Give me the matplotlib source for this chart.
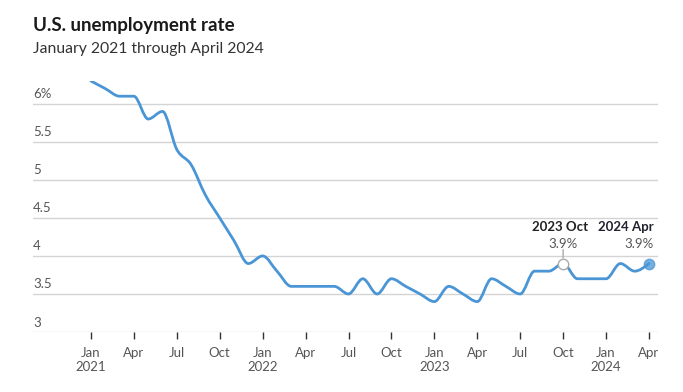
import matplotlib.pyplot as plt
import numpy as np
from matplotlib.path import Path
from matplotlib.patches import PathPatch

plt.rcParams['font.family'] = ['Lato', 'DejaVu Sans']

# monthly unemployment rate, Jan 2021 .. Apr 2024
rate_2021 = [6.3, 6.2, 6.1, 6.1, 5.8, 5.9, 5.4, 5.2, 4.8, 4.5, 4.2, 3.9]
rate_2022 = [4.0, 3.8, 3.6, 3.6, 3.6, 3.6, 3.5, 3.7, 3.5, 3.7, 3.6, 3.5]
rate_2023 = [3.4, 3.6, 3.5, 3.4, 3.7, 3.6, 3.5, 3.8, 3.8, 3.9, 3.7, 3.7]
rate_2024 = [3.7, 3.9, 3.8, 3.9]
rate = np.array(rate_2021 + rate_2022 + rate_2023 + rate_2024)
months = np.arange(len(rate))

tick_labels = ['Jan\n2021', 'Apr', 'Jul', 'Oct', 'Jan\n2022', 'Apr', 'Jul', 'Oct',
               'Jan\n2023', 'Apr', 'Jul', 'Oct', 'Jan\n2024', 'Apr']
y_ticks = [3, 3.5, 4, 4.5, 5, 5.5, 6]
y_labels = ['3', '3.5', '4', '4.5', '5', '5.5', '6%']

blue = '#4A95D6'


def monotone_path(x, y):
    # cubic bezier path, monotone in x (same idea as d3.curveMonotoneX)
    n = len(x)
    h = np.diff(x)
    s = np.diff(y) / h
    t = np.zeros(n)
    for i in range(1, n - 1):
        p = (s[i - 1] * h[i] + s[i] * h[i - 1]) / (h[i - 1] + h[i])
        t[i] = (np.sign(s[i - 1]) + np.sign(s[i])) * min(abs(s[i - 1]), abs(s[i]), 0.5 * abs(p))
    t[0] = (3 * s[0] - t[1]) / 2
    t[-1] = (3 * s[-1] - t[-2]) / 2
    verts = [(x[0], y[0])]
    codes = [Path.MOVETO]
    for i in range(n - 1):
        dx = h[i] / 3
        verts += [(x[i] + dx, y[i] + dx * t[i]), (x[i + 1] - dx, y[i + 1] - dx * t[i + 1]), (x[i + 1], y[i + 1])]
        codes += [Path.CURVE4] * 3
    return Path(verts, codes)


fig = plt.figure(figsize=(6.83, 3.92), dpi=100)
ax = fig.add_axes([33 / 683, 1 - 332 / 392, 625 / 683, 251 / 392])
ax.set_xlim(-4.05, 39.63)
ax.set_ylim(3, 6.3)

for yv, lab in zip(y_ticks, y_labels):
    ax.axhline(yv, color='#d4d4d4', lw=1, zorder=1)
    ax.annotate(lab, (0, yv), xycoords=('axes fraction', 'data'), xytext=(0, 2.5),
                textcoords='offset points', ha='left', va='bottom', fontsize=9.5, color='#555555')

ax.add_patch(PathPatch(monotone_path(months, rate), fill=False, edgecolor=blue, lw=2,
                       capstyle='round', joinstyle='round', zorder=3))

# highlights
i_oct = 33
i_apr = len(rate) - 1
ax.plot(months[i_oct], rate[i_oct], 'o', ms=7.5, mfc='white', mec='#aaaaaa', mew=1, zorder=4)
ax.plot(months[i_apr], rate[i_apr], 'o', ms=7.5, color=blue, alpha=0.75, mec=blue, zorder=4)
ax.annotate('', (months[i_oct], rate[i_oct]), xytext=(0, 10), textcoords='offset points',
            arrowprops=dict(arrowstyle='-', color='#aaaaaa', lw=1, shrinkA=0, shrinkB=4))
ax.annotate('%.1f%%' % rate[i_oct], (months[i_oct], rate[i_oct]), xytext=(0, 10),
            textcoords='offset points', ha='center', va='bottom', fontsize=9.5, color='#555555')
ax.annotate('2023 Oct', (months[i_oct], rate[i_oct]), xytext=(-2, 22),
            textcoords='offset points', ha='center', va='bottom', fontsize=9.5,
            fontweight='bold', color='#222222')
ax.annotate('%.1f%%' % rate[i_apr], (months[i_apr], rate[i_apr]), xytext=(3, 10),
            textcoords='offset points', ha='right', va='bottom', fontsize=9.5, color='#555555')
ax.annotate('2024 Apr', (months[i_apr], rate[i_apr]), xytext=(3, 22),
            textcoords='offset points', ha='right', va='bottom', fontsize=9.5,
            fontweight='bold', color='#222230')

ax.set_xticks(months[::3])
ax.set_xticklabels(tick_labels, fontsize=9.5, color='#555555', linespacing=1.2)
ax.tick_params(axis='x', length=5, width=1, color='#333333', pad=6, direction='out')
ax.set_yticks([])
for sp in ax.spines.values():
    sp.set_visible(False)

fig.text(33 / 683, 1 - 25 / 392, 'U.S. unemployment rate', fontsize=13.5, fontweight='bold',
         color='#1a1a1a', va='center', ha='left')
fig.text(33 / 683, 1 - 49 / 392, 'January 2021 through April 2024', fontsize=11.3,
         color='#333333', va='center', ha='left')

fig.savefig('out.png', dpi=100)
